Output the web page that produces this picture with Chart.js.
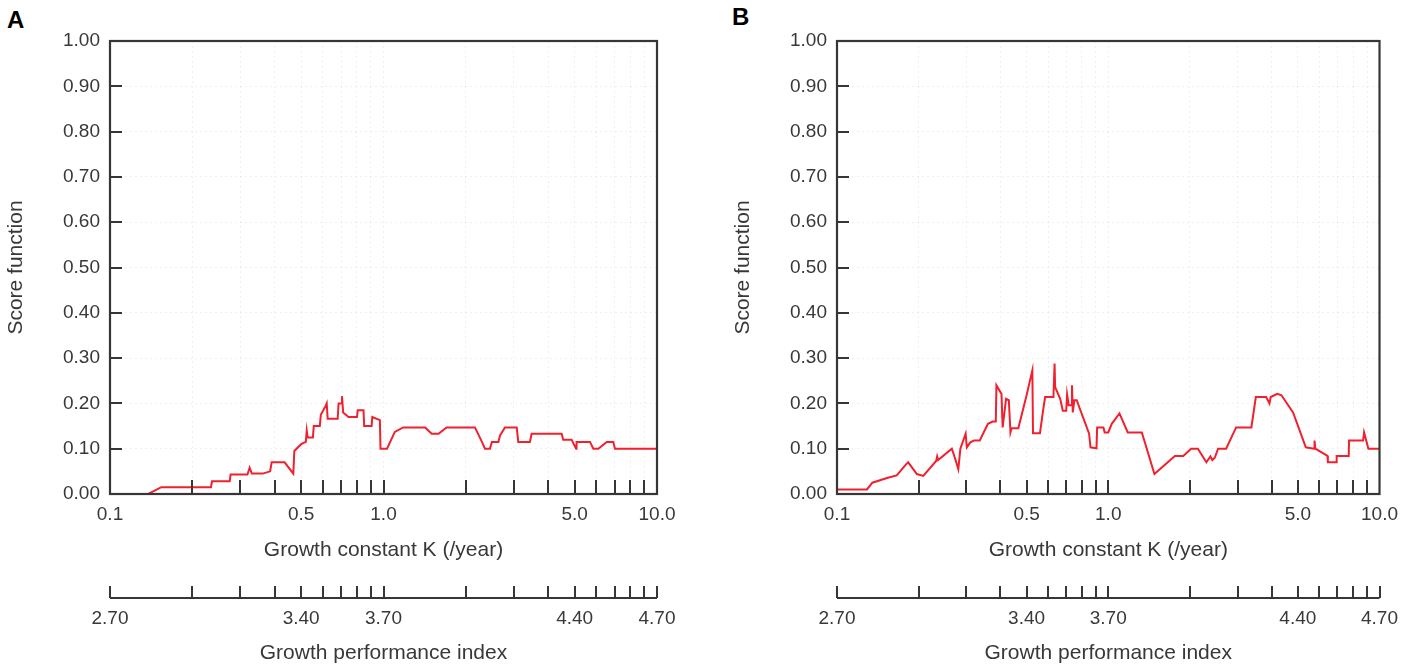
<!DOCTYPE html>
<html>
<head>
<meta charset="utf-8">
<script src="https://cdn.jsdelivr.net/npm/chart.js@4"></script>
<style>
  html, body { margin: 0; padding: 0; background: #ffffff; }
  body { width: 1407px; height: 668px; position: relative; overflow: hidden; font-family: "Liberation Sans", Arial, sans-serif; }
  .panel { position: absolute; top: 0; }
  .letter { position: absolute; font-family: "Liberation Sans", Arial, sans-serif; font-weight: bold; font-size: 24px; line-height: 24px; color: #000; }
</style>
</head>
<body>
<div class="letter" style="left:7px; top:8px;">A</div>
<div class="letter" style="left:732px; top:5px;">B</div>
<canvas id="chartA" class="panel" style="left:0px;" width="700" height="668"></canvas>
<canvas id="chartB" class="panel" style="left:727px;" width="680" height="668"></canvas>
<script>
// ---------------- DATA ----------------
const kA = [0.100, 0.138, 0.154, 0.234, 0.236, 0.274, 0.276, 0.318, 0.324, 0.330, 0.362, 0.385, 0.390, 0.435, 0.468, 0.472, 0.500, 0.520, 0.524, 0.528, 0.552, 0.556, 0.585, 0.590, 0.615, 0.620, 0.625, 0.680, 0.685, 0.700, 0.705, 0.712, 0.745, 0.800, 0.805, 0.845, 0.850, 0.905, 0.910, 0.970, 0.975, 1.03, 1.10, 1.18, 1.42, 1.50, 1.59, 1.70, 2.16, 2.29, 2.35, 2.45, 2.49, 2.63, 2.67, 2.78, 3.07, 3.11, 3.43, 3.48, 4.48, 4.54, 4.87, 5.06, 5.08, 5.69, 5.85, 6.10, 6.55, 6.92, 7.02, 10.0];
const scoreA = [0, 0, 0.015, 0.015, 0.028, 0.028, 0.043, 0.043, 0.058, 0.045, 0.045, 0.050, 0.070, 0.070, 0.045, 0.095, 0.110, 0.115, 0.140, 0.125, 0.125, 0.150, 0.150, 0.175, 0.195, 0.200, 0.166, 0.166, 0.200, 0.200, 0.216, 0.180, 0.170, 0.170, 0.185, 0.185, 0.150, 0.150, 0.170, 0.163, 0.100, 0.100, 0.137, 0.147, 0.147, 0.133, 0.133, 0.147, 0.147, 0.115, 0.100, 0.100, 0.115, 0.115, 0.130, 0.147, 0.147, 0.115, 0.115, 0.133, 0.133, 0.120, 0.120, 0.100, 0.115, 0.115, 0.100, 0.100, 0.115, 0.115, 0.100, 0.100];

const kB = [0.100, 0.129, 0.135, 0.154, 0.166, 0.180, 0.183, 0.197, 0.208, 0.232, 0.234, 0.236, 0.265, 0.272, 0.280, 0.285, 0.298, 0.301, 0.310, 0.320, 0.336, 0.360, 0.375, 0.385, 0.387, 0.404, 0.408, 0.420, 0.430, 0.436, 0.440, 0.466, 0.500, 0.525, 0.528, 0.560, 0.575, 0.585, 0.628, 0.634, 0.637, 0.665, 0.680, 0.700, 0.705, 0.715, 0.730, 0.735, 0.740, 0.750, 0.765, 0.850, 0.860, 0.905, 0.910, 0.960, 0.970, 1.00, 1.03, 1.10, 1.18, 1.33, 1.48, 1.76, 1.89, 2.02, 2.14, 2.30, 2.38, 2.42, 2.47, 2.54, 2.72, 2.96, 3.37, 3.50, 3.82, 3.93, 3.97, 4.20, 4.35, 4.80, 5.35, 5.74, 5.76, 5.80, 6.43, 6.45, 6.93, 6.95, 7.70, 7.72, 8.70, 8.77, 9.10, 10.0];
const scoreB = [0.010, 0.010, 0.025, 0.036, 0.041, 0.066, 0.070, 0.044, 0.040, 0.073, 0.083, 0.075, 0.100, 0.080, 0.055, 0.100, 0.133, 0.103, 0.114, 0.118, 0.118, 0.155, 0.160, 0.160, 0.240, 0.221, 0.147, 0.210, 0.207, 0.136, 0.145, 0.145, 0.218, 0.273, 0.134, 0.134, 0.184, 0.214, 0.214, 0.288, 0.236, 0.210, 0.184, 0.184, 0.220, 0.196, 0.196, 0.240, 0.180, 0.207, 0.207, 0.133, 0.103, 0.101, 0.147, 0.147, 0.136, 0.136, 0.155, 0.178, 0.136, 0.136, 0.044, 0.084, 0.084, 0.100, 0.100, 0.070, 0.083, 0.075, 0.080, 0.100, 0.100, 0.147, 0.147, 0.214, 0.214, 0.200, 0.214, 0.221, 0.218, 0.180, 0.103, 0.100, 0.118, 0.100, 0.084, 0.070, 0.070, 0.084, 0.084, 0.118, 0.118, 0.136, 0.100, 0.100];

const majorK = [0.1, 0.5, 1, 5, 10];
const kTickText = ['0.1', '0.5', '1.0', '5.0', '10.0'];
const phiTickText = ['2.70', '3.40', '3.70', '4.40', '4.70'];
const minorK = [0.2, 0.3, 0.4, 0.5, 0.6, 0.7, 0.8, 0.9, 1, 2, 3, 4, 5, 6, 7, 8, 9];
const allK = [0.1].concat(minorK, [10]);
const yTicks = [0, 0.1, 0.2, 0.3, 0.4, 0.5, 0.6, 0.7, 0.8, 0.9, 1.0];

// ---------------- STYLE ----------------
const TEXT = '#383838';
const AXIS = '#363636';
const RED = '#f0202e';
const GRID = 'rgba(0,0,0,0.06)';
const FONT = '"Liberation Sans", Arial, sans-serif';

function majorIndex(v) {
  return majorK.findIndex(m => Math.abs(m - v) / m < 1e-6);
}

const framePlugin = {
  id: 'frame',
  afterDatasetsDraw(chart) {
    const { ctx, chartArea } = chart;
    const { left, right, top, bottom } = chartArea;
    const x = chart.scales.x, y = chart.scales.y, x2 = chart.scales.x2;
    ctx.save();
    ctx.strokeStyle = AXIS;
    ctx.lineWidth = 2.2;
    ctx.strokeRect(left, top, right - left, bottom - top);
    ctx.lineWidth = 2;
    ctx.beginPath();
    yTicks.forEach(v => {
      const py = Math.round(y.getPixelForValue(v));
      ctx.moveTo(left, py); ctx.lineTo(left + 12, py);
    });
    minorK.forEach(k => {
      const px = Math.round(x.getPixelForValue(k));
      ctx.moveTo(px, bottom); ctx.lineTo(px, bottom - 14);
    });
    const ly = Math.round(x2.top);
    ctx.moveTo(left, ly); ctx.lineTo(right, ly);
    allK.forEach(k => {
      const px = Math.round(x2.getPixelForValue(k));
      ctx.moveTo(px, ly); ctx.lineTo(px, ly - 12);
    });
    ctx.stroke();
    ctx.restore();
  }
};

function makeChart(id, kArr, sArr, rightPad) {
  const pts = kArr.map((k, i) => ({ x: k, y: sArr[i] }));
  return new Chart(document.getElementById(id), {
    type: 'line',
    data: {
      datasets: [{
        data: pts,
        borderColor: RED,
        borderWidth: 2,
        pointRadius: 0,
        tension: 0,
        fill: false
      }]
    },
    options: {
      responsive: false,
      animation: false,
      devicePixelRatio: 1,
      layout: { padding: { top: 41, right: rightPad, left: 0, bottom: 0 } },
      plugins: { legend: { display: false }, tooltip: { enabled: false } },
      scales: {
        x: {
          type: 'logarithmic',
          position: 'bottom',
          min: 0.1, max: 10,
          afterBuildTicks: s => { s.ticks = allK.map(v => ({ value: v })); },
          afterFit: s => { s.height = 104; },
          ticks: {
            autoSkip: false, maxRotation: 0, padding: 9,
            color: TEXT, font: { family: FONT, size: 19 },
            callback: (v) => { const j = majorIndex(v); return j >= 0 ? kTickText[j] : ''; }
          },
          grid: {
            drawTicks: false,
            color: c => (c.tick && (c.tick.value === 0.1 || c.tick.value === 10)) ? 'rgba(0,0,0,0)' : GRID,
            lineWidth: 1
          },
          border: { display: false, dash: [2, 3] },
          title: {
            display: true, text: 'Growth constant K (/year)',
            color: TEXT, font: { family: FONT, size: 21 },
            padding: { top: 0, bottom: 35 }
          }
        },
        x2: {
          type: 'logarithmic',
          position: 'bottom',
          min: 0.1, max: 10,
          afterBuildTicks: s => { s.ticks = allK.map(v => ({ value: v })); },
          afterFit: s => { s.height = 70; },
          ticks: {
            autoSkip: false, maxRotation: 0, padding: 9,
            color: TEXT, font: { family: FONT, size: 19 },
            callback: (v) => { const j = majorIndex(v); return j >= 0 ? phiTickText[j] : ''; }
          },
          grid: { display: false, drawTicks: false, drawOnChartArea: false },
          border: { display: false },
          title: {
            display: true, text: 'Growth performance index',
            color: TEXT, font: { family: FONT, size: 21 },
            padding: { top: 0, bottom: 2 }
          }
        },
        y: {
          type: 'linear',
          min: 0, max: 1,
          afterBuildTicks: s => { s.ticks = yTicks.map(v => ({ value: v })); },
          afterFit: s => { s.width = 110; },
          ticks: {
            padding: 10, color: TEXT, font: { family: FONT, size: 19 },
            callback: v => v.toFixed(2)
          },
          grid: {
            drawTicks: false,
            color: c => (c.tick && (c.tick.value === 0 || c.tick.value === 1)) ? 'rgba(0,0,0,0)' : GRID,
            lineWidth: 1
          },
          border: { display: false, dash: [2, 3] },
          title: {
            display: true, text: 'Score function',
            color: TEXT, font: { family: FONT, size: 21 },
            padding: { top: 4, bottom: 0 }
          }
        }
      }
    },
    plugins: [framePlugin]
  });
}

makeChart('chartA', kA, scoreA, 43);
makeChart('chartB', kB, scoreB, 26);
</script>
</body>
</html>
